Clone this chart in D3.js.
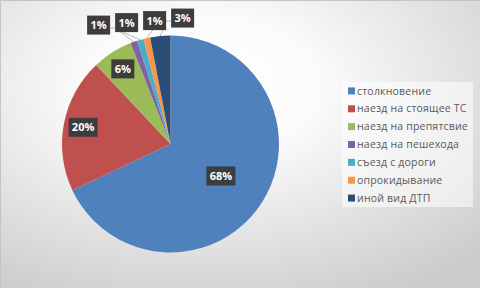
<!DOCTYPE html>
<html>
<head>
<meta charset="utf-8">
<script src="https://cdn.jsdelivr.net/npm/d3@7"></script>
<style>
  body { margin: 0; }
  svg { display: block; }
</style>
</head>
<body>
<svg id="chart" width="480" height="288"></svg>
<script>
// виды ДТП и их доли, %
const categories = ["столкновение", "наезд на стоящее ТС", "наезд на препятсвие",
    "наезд на пешехода", "съезд с дороги", "опрокидывание", "иной вид ДТП"];
const shares = [68, 20, 6, 1, 1, 1, 3];
const labels = ["68%", "20%", "6%", "1%", "1%", "1%", "3%"];
const colors = ["#4f81bd", "#c0504d", "#9bbb59", "#8064a2", "#4bacc6", "#f79646", "#2c4d75"];

const svg = d3.select("#chart");
const width = +svg.attr("width");
const height = +svg.attr("height");

// фон: радиальный градиент как в Excel
const defs = svg.append("defs");
const grad = defs.append("radialGradient")
    .attr("id", "bg")
    .attr("cx", "42%").attr("cy", "30%").attr("r", "80%");
grad.append("stop").attr("offset", "0%").attr("stop-color", "#ffffff");
grad.append("stop").attr("offset", "30%").attr("stop-color", "#fbfbfb");
grad.append("stop").attr("offset", "100%").attr("stop-color", "#cdcdcd");

svg.append("rect").attr("width", width).attr("height", height).attr("fill", "url(#bg)");
svg.append("path")
    .attr("d", `M0.5,${height} V0.5 H${width}`)
    .attr("fill", "none").attr("stroke", "#c4c4c4");

const cx = 170.5, cy = 144, r = 108.5;
const g = svg.append("g").attr("transform", `translate(${cx},${cy})`);

const pie = d3.pie().sort(null).value(d => d);
const arcs = pie(shares);
const arc = d3.arc().innerRadius(0).outerRadius(r);

g.selectAll("path.slice")
    .data(arcs)
    .enter().append("path")
    .attr("class", "slice")
    .attr("d", arc)
    .attr("fill", (d, i) => colors[i]);

// подписи: крупные внутри, мелкие (<5%) выносные
const boxH = 19;
function boxW(t) { return t.length === 3 ? 29 : 23; }

const inside = [], outside = [];
arcs.forEach((d, i) => {
    const a = (d.startAngle + d.endAngle) / 2;
    const item = { i, a, text: labels[i] };
    if (d.value >= 5) inside.push(item); else outside.push(item);
});

inside.forEach(o => {
    const k = arcs[o.i].value > 50 ? 0.55 : 0.82;
    o.x = Math.sin(o.a) * r * k;
    o.y = -Math.cos(o.a) * r * k;
});

// выносные: якорь на окружности r+20, затем раздвигаем с шагом 28
const step = 28;
outside.forEach(o => {
    o.x = Math.sin(o.a) * (r + 20);
    o.y = -Math.cos(o.a) * (r + 20) + 2;
    o.px = Math.sin(o.a) * r;
    o.py = -Math.cos(o.a) * r;
});
const meanX = d3.mean(outside, o => o.x);
outside.forEach((o, j) => { o.x = meanX + (j - (outside.length - 1) / 2) * step; });

// линии выноски
const lines = g.append("g");
outside.forEach(o => {
    const w = boxW(o.text);
    const dx = o.px - o.x;
    let pts;
    if (Math.abs(dx) > 18) {
        const sx = o.x + Math.sign(dx) * w / 2;
        pts = [[sx, o.y + 3], [sx + Math.sign(dx) * 5, o.y + 3], [o.px, o.py]];
    } else {
        pts = [[o.x + (dx < 0 ? -2 : -4), o.y + boxH / 2], [o.px, o.py]];
    }
    lines.append("polyline")
        .attr("points", pts.map(p => p.join(",")).join(" "))
        .attr("fill", "none")
        .attr("stroke", "#a6a6a6")
        .attr("stroke-width", 0.8);
});

const labelG = g.append("g");
inside.concat(outside).forEach(o => {
    const w = boxW(o.text);
    labelG.append("rect")
        .attr("x", o.x - w / 2).attr("y", o.y - boxH / 2)
        .attr("width", w).attr("height", boxH)
        .attr("fill", "#3d3d3d");
    labelG.append("text")
        .attr("x", o.x).attr("y", o.y)
        .attr("dy", "0.36em")
        .attr("text-anchor", "middle")
        .attr("font-family", "'Open Sans', sans-serif")
        .attr("font-weight", "bold")
        .attr("font-size", 11)
        .attr("fill", "#ffffff")
        .text(o.text);
});

// легенда
const legend = svg.append("g").attr("transform", "translate(342,82)");
legend.append("rect")
    .attr("width", 131).attr("height", 125)
    .attr("fill", "#ffffff").attr("opacity", 0.55);

const rowY = d3.scaleBand().domain(categories).range([0, 125]);
const item = legend.selectAll("g.item")
    .data(categories)
    .enter().append("g")
    .attr("class", "item")
    .attr("transform", d => `translate(0,${rowY(d) + rowY.bandwidth() / 2})`);
item.append("rect")
    .attr("x", 6).attr("y", -3.5)
    .attr("width", 7).attr("height", 7)
    .attr("fill", (d, i) => colors[i]);
item.append("text")
    .attr("x", 15).attr("dy", "0.35em")
    .attr("font-family", "'Open Sans', sans-serif")
    .attr("font-size", 10.5)
    .attr("letter-spacing", 0.2)
    .attr("fill", "#595959")
    .text(d => d);
</script>
</body>
</html>
